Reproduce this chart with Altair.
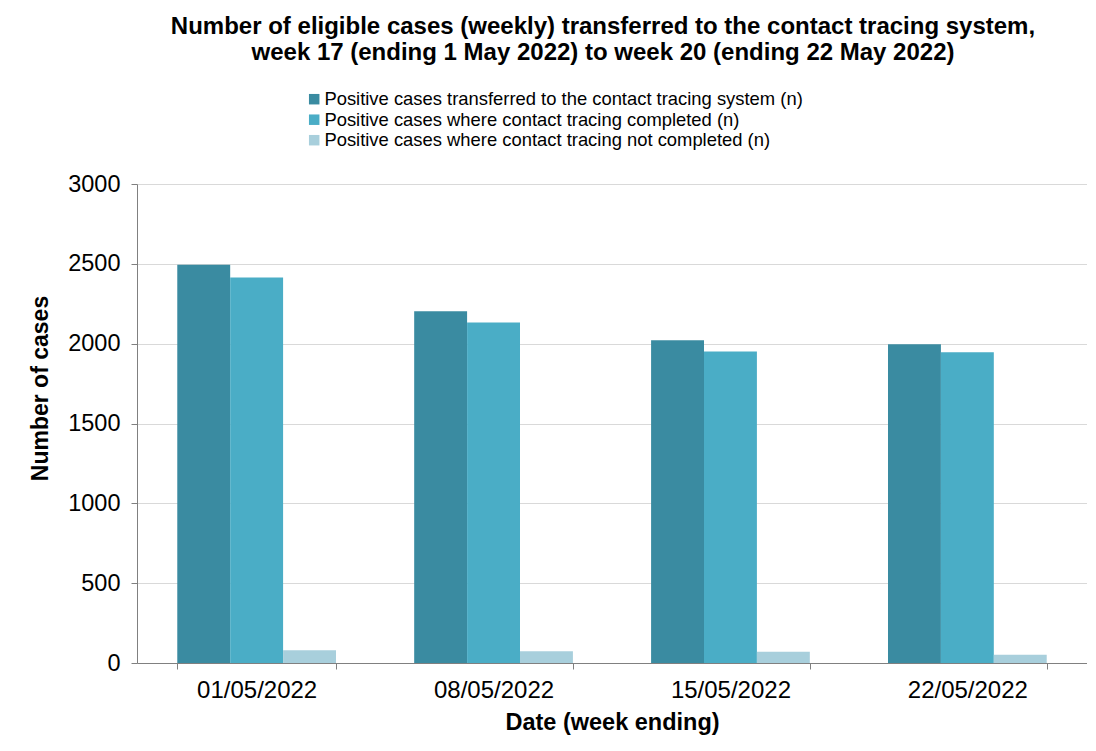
import altair as alt
import pandas as pd

dates = ["01/05/2022", "08/05/2022", "15/05/2022", "22/05/2022"]
series_names = [
    "Positive cases transferred to the contact tracing system (n)",
    "Positive cases where contact tracing completed (n)",
    "Positive cases where contact tracing not completed (n)",
]
transferred = [2495, 2203, 2022, 1997]
completed = [2415, 2132, 1951, 1947]
not_completed = [80, 73, 71, 51]
colors = ["#3a8ba1", "#4aadc6", "#a8cfdc"]
y_ticks = [0, 500, 1000, 1500, 2000, 2500, 3000]

rows = []
for i, d in enumerate(dates):
    for s, vals in zip(series_names, [transferred, completed, not_completed]):
        rows.append({"date": d, "series": s, "value": vals[i]})
df = pd.DataFrame(rows)

font = "Liberation Sans"

chart = alt.Chart(df).mark_bar().encode(
    x=alt.X(
        "date:N",
        sort=dates,
        scale=alt.Scale(paddingInner=0.33, paddingOuter=0.17),
        axis=alt.Axis(
            title="Date (week ending)",
            labelAngle=0,
            tickBand="extent",
            tickSize=6,
            tickColor="#808080",
            domainColor="#808080",
            labelFont=font,
            labelFontSize=24,
            labelColor="#000000",
            labelPadding=9,
            titleFont=font,
            titleFontSize=23.5,
            titleFontWeight="bold",
            titleColor="#000000",
            titlePadding=8,
            grid=False,
        ),
    ),
    xOffset=alt.XOffset(
        "series:N", sort=series_names, scale=alt.Scale(paddingInner=0, paddingOuter=0)
    ),
    y=alt.Y(
        "value:Q",
        scale=alt.Scale(domain=[0, 3000], nice=False),
        axis=alt.Axis(
            title="Number of cases",
            values=y_ticks,
            format="d",
            tickSize=6,
            tickColor="#808080",
            domainColor="#808080",
            gridColor="#d9d9d9",
            labelFont=font,
            labelFontSize=23.5,
            labelColor="#000000",
            labelPadding=11,
            titleFont=font,
            titleFontSize=23,
            titleFontWeight="bold",
            titleColor="#000000",
            titleX=-97,
            titleY=204,
            titleBaseline="middle",
        ),
    ),
    color=alt.Color(
        "series:N",
        sort=series_names,
        scale=alt.Scale(domain=series_names, range=colors),
        legend=alt.Legend(
            title=None,
            orient="none",
            legendX=168,
            legendY=-94,
            symbolType="square",
            symbolSize=110,
            symbolStrokeWidth=0,
            labelFont=font,
            labelFontSize=18.4,
            labelColor="#000000",
            labelOffset=1,
            labelLimit=0,
            rowPadding=1.5,
            padding=0,
        ),
    ),
).properties(
    width=950,
    height=479,
    autosize=alt.AutoSizeParams(type="none"),
    padding={"left": 129, "top": 176, "right": 0, "bottom": 80},
    title=alt.Title(
        text=[
            "Number of eligible cases (weekly) transferred to the contact tracing system,",
            "week 17 (ending 1 May 2022) to week 20 (ending 22 May 2022)",
        ],
        font=font,
        fontSize=24,
        fontWeight="bold",
        color="#000000",
        anchor="middle",
        offset=25,
        dx=-9,
        lineHeight=26,
    ),
).configure_view(stroke=None)

chart.save("out.html", embed_options={"renderer": "svg", "actions": False})
